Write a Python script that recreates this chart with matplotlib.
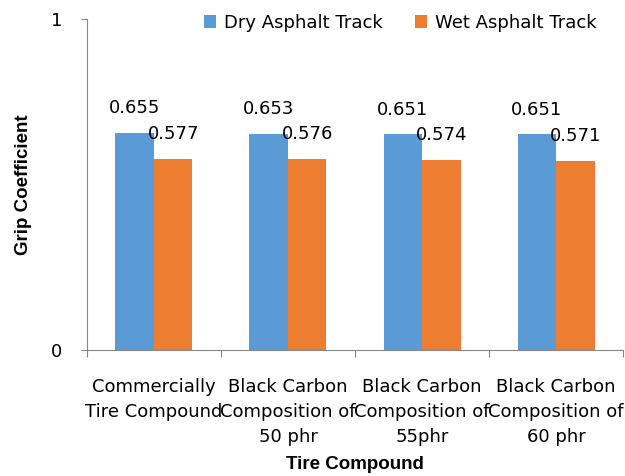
import numpy as np
import matplotlib
matplotlib.use("Agg")
import matplotlib.pyplot as plt

plt.rcParams['font.family'] = ['Liberation Sans Narrow', 'DejaVu Sans']

# grip coefficient per compound
categories = ["Commercially\nTire Compound",
              "Black Carbon\nComposition of\n50 phr",
              "Black Carbon\nComposition of\n55phr",
              "Black Carbon\nComposition of\n60 phr"]
dry = [0.655, 0.653, 0.651, 0.651]
wet = [0.577, 0.576, 0.574, 0.571]
series_names = ["Dry Asphalt Track", "Wet Asphalt Track"]
colors = ["#5B9BD5", "#ED7D31"]

fig = plt.figure(figsize=(6.25, 4.76), dpi=100)
ax = fig.add_axes([0.139, 0.265, 0.858, 0.695])

x = np.arange(len(categories))
w = 0.287
b1 = ax.bar(x - w / 2, dry, w, color=colors[0], label=series_names[0])
b2 = ax.bar(x + w / 2, wet, w, color=colors[1], label=series_names[1])

for bars, vals in ((b1, dry), (b2, wet)):
    for r, v in zip(bars, vals):
        ax.annotate(f"{v:.3f}", (r.get_x() + r.get_width() / 2, v),
                    xytext=(0, 11.5), textcoords="offset points",
                    ha="center", va="bottom", fontsize=13)

ax.set_xlim(-0.5, len(categories) - 0.5)
ax.set_ylim(0, 1)
ax.set_yticks([0, 1])
ax.set_yticklabels(["0", "1"], fontsize=13)
ax.tick_params(axis="y", length=4, color="#868686", pad=14)

ax.set_xticks(np.arange(len(categories) + 1) - 0.5)
ax.set_xticklabels([])
ax.set_xticks(x, minor=True)
ax.set_xticklabels(categories, minor=True, fontsize=13, linespacing=1.52)
ax.tick_params(axis="x", which="major", length=5, color="#868686")
ax.tick_params(axis="x", which="minor", length=0, pad=20)

for s in ("top", "right"):
    ax.spines[s].set_visible(False)
for s in ("left", "bottom"):
    ax.spines[s].set_color("#868686")

title_font = dict(family=["Liberation Sans", "DejaVu Sans"], fontsize=13.5, fontweight="bold")
ax.set_ylabel("Grip Coefficient", labelpad=13, **title_font)
ax.set_xlabel("Tire Compound", labelpad=7, **title_font)

fig.legend(loc="upper right", bbox_to_anchor=(0.98, 1.005), ncol=2, frameon=False,
           fontsize=13, handlelength=0.7, handleheight=0.7, handletextpad=0.4,
           columnspacing=1.8)

fig.savefig("out.png", dpi=100)
